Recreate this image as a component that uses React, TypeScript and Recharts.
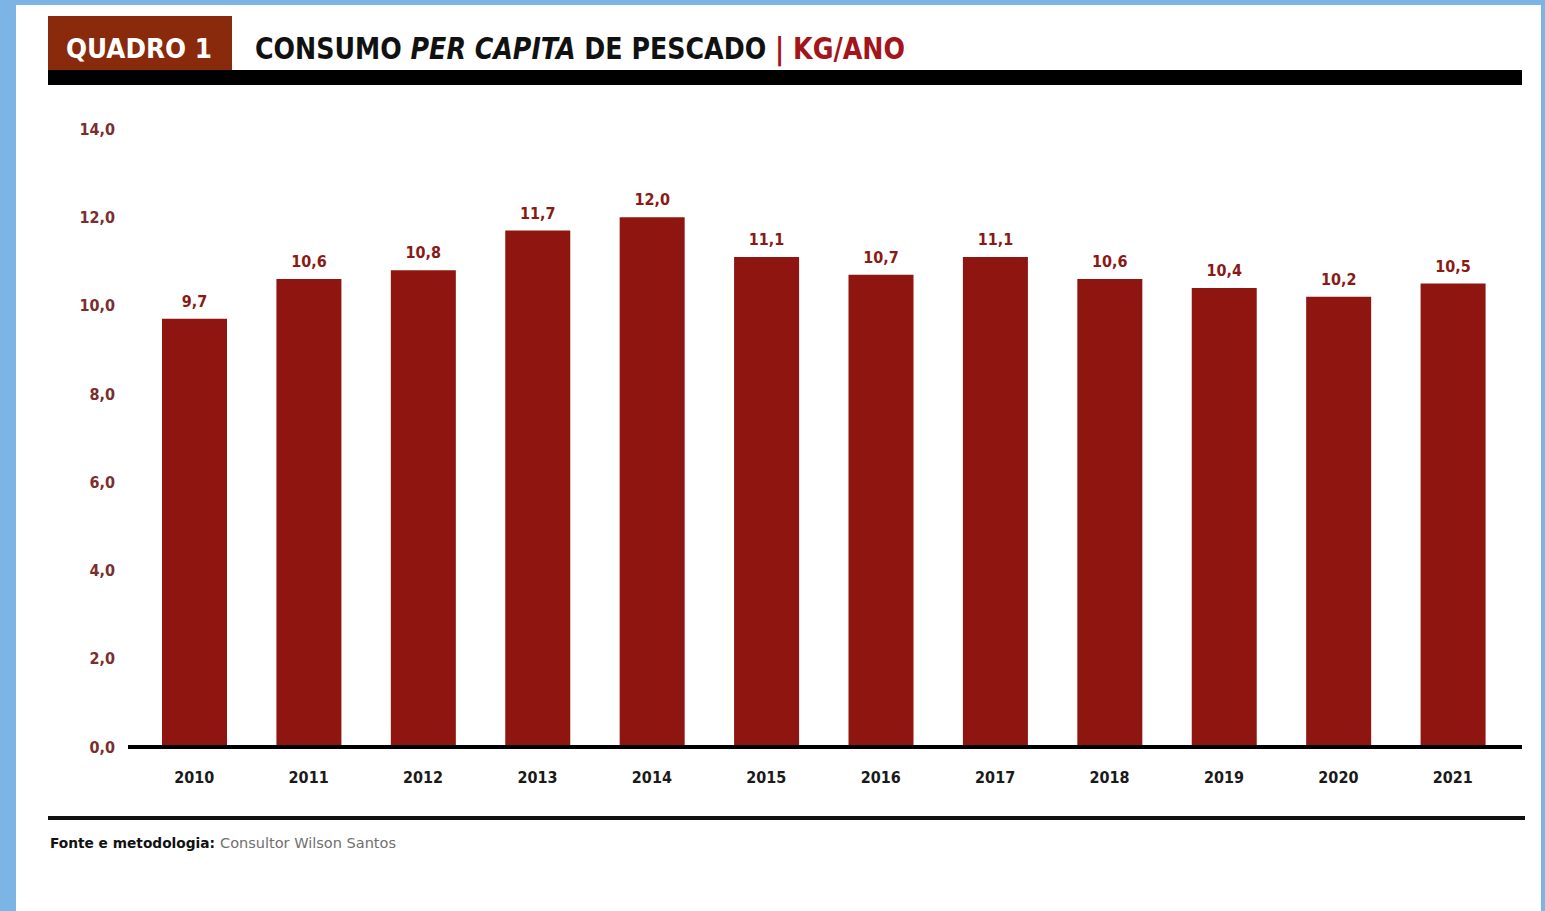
import React from 'react';
import { BarChart, Bar, XAxis, YAxis, LabelList } from 'recharts';

const years = ['2010', '2011', '2012', '2013', '2014', '2015', '2016', '2017', '2018', '2019', '2020', '2021'];
const consumo = [9.7, 10.6, 10.8, 11.7, 12.0, 11.1, 10.7, 11.1, 10.6, 10.4, 10.2, 10.5];
const yTicks = [0, 2, 4, 6, 8, 10, 12, 14];

const data = years.map((year, i) => ({ year, value: consumo[i] }));

const FONT = '"DejaVu Sans Condensed", "DejaVu Sans", sans-serif';
const BAR_RED = '#8f1610';
const fmt = (v: number) => v.toFixed(1).replace('.', ',');

function Decor() {
  return (
    <svg width={1545} height={911} style={{ position: 'absolute', left: 0, top: 0 }}>
      <rect x={0} y={0} width={1545} height={911} fill="#7cb4e6" />
      <rect x={16} y={5} width={1525} height={906} fill="#ffffff" />
      {/* header */}
      <rect x={48} y={16} width={184} height={56} fill="#8a2a0c" />
      <text x={66} y={58} fontFamily={FONT} fontWeight="bold" fontSize={27} fill="#ffffff"
        textLength={146} lengthAdjust="spacingAndGlyphs">QUADRO 1</text>
      <text x={255} y={59} fontFamily={FONT} fontWeight="bold" fontSize={30} fill="#111111"
        textLength={650} lengthAdjust="spacingAndGlyphs">
        <tspan>CONSUMO </tspan>
        <tspan fontStyle="italic">PER CAPITA</tspan>
        <tspan> DE PESCADO </tspan>
        <tspan fill="#a3151a">| KG/ANO</tspan>
      </text>
      <rect x={48} y={70} width={1474} height={15} fill="#000000" />
      {/* footer */}
      <rect x={48} y={816} width={1477} height={4} fill="#111111" />
      <text x={50} y={848} fontFamily={FONT} fontSize={14} fill="#111111">
        <tspan fontWeight="bold" textLength={165} lengthAdjust="spacingAndGlyphs">Fonte e metodologia:</tspan>
        <tspan fill="#6f6f6f" dx={5} textLength={176} lengthAdjust="spacingAndGlyphs">Consultor Wilson Santos</tspan>
      </text>
    </svg>
  );
}

export default function App() {
  return (
    <div style={{ position: 'absolute', left: 0, top: 0, width: 1545, height: 911, overflow: 'hidden' }}>
      <Decor />
      <div style={{ position: 'absolute', left: 0, top: 0 }}>
        <BarChart width={1545} height={911} data={data}
          margin={{ top: 129, right: 23, bottom: 134, left: 0 }}>
          <XAxis dataKey="year" padding={{ left: 9, right: 12 }}
            axisLine={{ stroke: '#000000', strokeWidth: 4 }} tickLine={false}
            tickSize={0} tickMargin={25}
            tick={{ fill: '#1a1a1a', fontFamily: FONT, fontWeight: 'bold', fontSize: 16 }} />
          <YAxis width={128} domain={[0, 14]} ticks={yTicks} interval={0}
            axisLine={false} tickLine={false} tickSize={0} tickMargin={13}
            tickFormatter={fmt}
            tick={{ fill: '#7a2e2e', fontFamily: FONT, fontWeight: 'bold', fontSize: 16 }} />
          <Bar dataKey="value" fill={BAR_RED} barSize={65} isAnimationActive={false}>
            <LabelList dataKey="value" position="top" offset={12} formatter={(v: any) => fmt(Number(v))}
              style={{ fill: '#8a1a16', fontFamily: FONT, fontWeight: 'bold', fontSize: 16 }} />
          </Bar>
        </BarChart>
      </div>
    </div>
  );
}
